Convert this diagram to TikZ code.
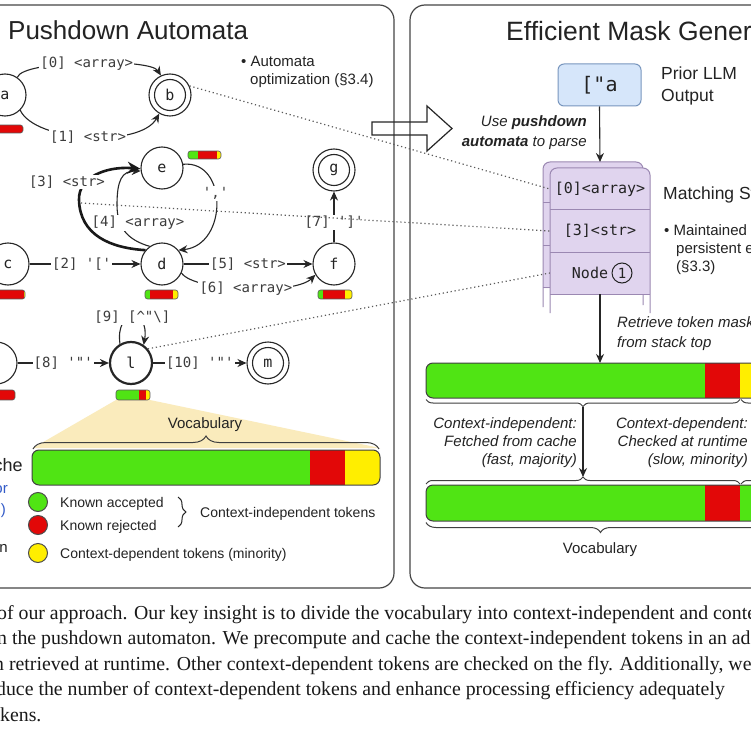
\documentclass[tikz,border=0pt]{standalone}
\usepackage{fontspec}
\setmainfont{Liberation Sans}
\newfontfamily\monof{DejaVu Sans Mono}
\newfontfamily\capf{Liberation Serif}
\usetikzlibrary{arrows.meta,decorations.pathreplacing}
\definecolor{vgreen}{RGB}{80,228,20}
\definecolor{vred}{RGB}{226,8,8}
\definecolor{vyellow}{RGB}{255,238,0}
\definecolor{tanfill}{RGB}{250,235,188}
\definecolor{boxblue}{RGB}{214,230,250}
\definecolor{boxblueb}{RGB}{120,150,190}
\definecolor{stackp}{RGB}{224,212,238}
\definecolor{stackb}{RGB}{155,136,178}
\definecolor{txtblue}{RGB}{50,90,200}
\definecolor{lblgray}{RGB}{60,60,60}
\definecolor{txtdark}{RGB}{35,35,35}
\definecolor{panelgray}{RGB}{70,70,70}
\definecolor{dotgray}{RGB}{90,90,90}
\tikzset{
  state/.style={circle, draw=black!85, line width=1.1pt, minimum size=42pt, inner sep=0pt, fill=white, text=txtdark, font=\monof\fontsize{15}{15}\selectfont},
  elbl/.style={font=\monof\fontsize{14}{14}\selectfont, text=lblgray, fill=white, inner sep=1.2pt},
  earrow/.style={line width=1.1pt, draw=black!85, -{Stealth[length=9pt,width=8pt]}},
  thickarrow/.style={line width=2.6pt, draw=black!90, -{Stealth[length=13pt,width=12pt]}},
  dotline/.style={draw=dotgray, line width=1.2pt, dash pattern=on 1.2pt off 2.8pt},
  barline/.style={draw=black!65, line width=0.6pt},
  bigbarline/.style={draw=black!75, line width=1pt},
  panel/.style={draw=panelgray, line width=1.2pt, rounded corners=15pt},
  txt/.style={inner sep=0pt, text=txtdark},
  f14/.style={font=\fontsize{14}{16}\selectfont},
  f15/.style={font=\fontsize{15}{18}\selectfont},
  i15/.style={font=\itshape\fontsize{15}{18}\selectfont},
  legdot/.style={circle, draw=black!70, line width=1pt, minimum size=19pt, inner sep=0pt},
  cellt/.style={minimum width=100pt, minimum height=42pt, inner sep=0pt, text=txtdark, font=\monof\fontsize{15}{15}\selectfont},
  capt/.style={anchor=base west, inner sep=0pt, text=black!90, font=\capf\fontsize{19.8}{19.8}\selectfont}
}
\newcommand{\pdabar}[6]{%
  \begin{scope}
    \clip[rounded corners=2.5pt] (#1,#5) rectangle (#2,#6);
    \fill[vgreen] (#1,#5) rectangle (#3,#6);
    \fill[vred] (#3,#5) rectangle (#4,#6);
    \fill[vyellow] (#4,#5) rectangle (#2,#6);
  \end{scope}
  \draw[barline, rounded corners=2.5pt] (#1,#5) rectangle (#2,#6);}
\newcommand{\vocbar}[7]{%
  \begin{scope}
    \clip[rounded corners=7pt] (#1,#5) rectangle (#2,#6);
    \fill[vgreen] (#1,#5) rectangle (#3,#6);
    \fill[vred] (#3,#5) rectangle (#4,#6);
    \fill[#7] (#4,#5) rectangle (#2,#6);
  \end{scope}
  \draw[bigbarline, rounded corners=7pt] (#1,#5) rectangle (#2,#6);}
\begin{document}
\begin{tikzpicture}[x=1pt,y=-1pt]
\useasboundingbox (0,0) rectangle (750,751);
\fill[white] (0,0) rectangle (750,751);

% panels
\draw[panel] (-40,5) rectangle (394,588);
\draw[panel] (410,5) rectangle (820,588);

% titles
\node[txt, anchor=base west, font=\fontsize{26}{26}\selectfont] (t1) at (8,40) {Pushdown Automata};
\node[txt, anchor=base west, font=\fontsize{26.5}{26}\selectfont] (t2) at (506,41) {Efficient Mask Generation};

% bullet left
\node[txt, f15, anchor=base west] (opt1) at (241,67) {\textbullet\ Automata};
\node[txt, f15, anchor=base west] (opt2) at (250,85) {optimization (§3.4)};

% tan trapezoid
\fill[tanfill] (116,400) -- (150,400) -- (380,448) -- (33,448) -- cycle;
\node[txt, f15] (voc1) at (205,425) {Vocabulary};

% states
\node[state] (a) at (5,95) {a};
\node[state] (b) at (170,95) {b};
\draw[line width=1.1pt, black!85] (b.center) circle[radius=15.5pt];
\node[state] (e) at (162,168) {e};
\node[state] (g) at (334,170) {g};
\draw[line width=1.1pt, black!85] (g.center) circle[radius=15.5pt];
\node[state] (c) at (8,264) {c};
\node[state] (d) at (162,264) {d};
\node[state] (f) at (334,264) {f};
\node[state] (h) at (-4,363) {h};
\node[state, line width=2.2pt] (l) at (131,363) {l};
\node[state] (m) at (268,363) {m};
\draw[line width=1.1pt, black!85] (m.center) circle[radius=15.5pt];

% edges
\draw[earrow] (a.55) .. controls (22,60) and (150,58) .. node[elbl]{[0] <array>} (b.115);
\draw[earrow] (a.-45) .. controls (35,142) and (140,148) .. node[elbl]{[1] <str>} (b.-120);
\draw[earrow] (c) -- node[elbl, pos=0.47]{[2] '['} (d);
\draw[earrow] (d) -- node[elbl]{[5] <str>} (f);
\draw[earrow] (d.-25) .. controls (195,292) and (295,295) .. node[elbl]{[6] <array>} (f.-150);
\draw[earrow] (f) -- node[elbl, pos=0.4]{[7] ']'} (g);
\draw[earrow] (e.10) .. controls (228,160) and (228,245) .. node[elbl, pos=0.42]{','} (d.40);
\draw[earrow] (d.125) .. controls (128,240) and (117,228) .. (117,205) .. controls (117,180) and (122,171) .. (e.188);
\node[elbl] (l4) at (138,223) {[4] <array>};
\draw[thickarrow] (d.140) .. controls (110,248) and (80,235) .. (79,200) .. controls (78,178) and (105,166) .. (e.182);
\node[elbl] (l3) at (67,182) {[3] <str>};
\draw[earrow] (h) -- node[elbl]{[8] '"'} (l);
\draw[earrow] (l) -- node[elbl]{[10] '"'} (m);
\draw[earrow] (l.120) .. controls (115,308) and (150,308) .. node[elbl]{[9] [\textasciicircum"\textbackslash]} (l.55);

% small bars
\pdabar{-10}{23}{-10}{23}{125}{133}
\pdabar{188}{221}{198}{217}{151}{159}
\pdabar{-10}{25}{-10}{23.5}{290}{299}
\pdabar{145}{178}{150}{173}{290}{299}
\pdabar{318}{352}{323}{345}{290}{299}
\pdabar{-10}{15}{-10}{15}{390}{400}
\pdabar{116}{150}{139}{146}{390}{400}

% vocabulary bar (left)
\vocbar{32}{380}{310}{345}{450}{485}{vyellow}
\draw[bigbarline, decorate, decoration={brace, amplitude=13pt}] (33,449) -- (379,449);

% cropped texts at left edge
\node[txt, anchor=base east, font=\fontsize{18}{18}\selectfont] (cache) at (23,471) {Adaptive Token Mask Cache};
\node[txt, f15, anchor=base east, text=txtblue] (cb1) at (8,493) {\textbullet\ Precomputed for};
\node[txt, f15, anchor=base east, text=txtblue] (cb2) at (6,514) {each node (§3.1)};
\node[txt, f15, anchor=base east] (cb3) at (8,552) {\textbullet\ Context expansion};

% legend
\node[legdot, fill=vgreen] (lg1) at (38,502) {};
\node[legdot, fill=vred] (lg2) at (38,525) {};
\node[legdot, fill=vyellow] (lg3) at (38,553) {};
\node[txt, f14, anchor=base west] (lt1) at (60,507) {Known accepted};
\node[txt, f14, anchor=base west] (lt2) at (60,530) {Known rejected};
\node[txt, f14, anchor=base west] (lt3) at (60,558) {Context-dependent tokens (minority)};
\draw[decorate, decoration={brace, amplitude=8pt}, line width=1pt, draw=txtdark] (178,497) -- (178,527);
\node[txt, f14, anchor=base west] (lt4) at (200,517) {Context-independent tokens};

% ---------- right panel ----------
\node[draw=boxblueb, fill=boxblue, rounded corners=6pt, line width=1pt, minimum width=83pt, minimum height=42pt, text=txtdark, font=\monof\fontsize{20}{20}\selectfont] (prior) at (599.5,85) {["a};
\node[txt, anchor=west, align=left, font=\fontsize{17.5}{22}\selectfont] (priorlbl) at (661,86) {Prior LLM\\Output};
\node[txt, i15, anchor=base east] (use1) at (587,127) {Use \textbf{pushdown}};
\node[txt, i15, anchor=base east] (use2) at (587,147) {\textbf{automata} to parse};

% stack (back card)
\fill[stackp, rounded corners=7pt] (543,288) -- (543,162) -- (643,162) -- (643,288);
\draw[stackb, line width=1pt, rounded corners=7pt] (543,307) -- (543,162) -- (643,162) -- (643,305);
\draw[stackb, line width=1pt] (543,203) -- (550,203) (543,245) -- (550,245) (543,287) -- (550,287);
% stack (front card)
\fill[stackp, rounded corners=7pt] (550,294) -- (550,168) -- (650,168) -- (650,294);
\draw[stackb, line width=1pt, rounded corners=7pt] (550,313) -- (550,168) -- (650,168) -- (650,313);
\draw[stackb, line width=1pt] (550,210) -- (650,210) (550,252) -- (650,252) (550,294) -- (650,294);
\node[cellt] (cell0) at (600,189) {[0]<array>};
\node[cellt] (cell3) at (600,231) {[3]<str>};
\node[cellt] (celln) at (600,273) {};
\node[txt, font=\monof\fontsize{15}{15}\selectfont] (nodetxt) at (590,273) {Node};
\node[circle, draw=txtdark, line width=1pt, minimum size=20pt, inner sep=0pt, text=txtdark, font=\monof\fontsize{14}{14}\selectfont] (one) at (622,273) {1};

\coordinate (stacktop) at (600,162);
\coordinate (stackbot) at (600,294);
\draw[earrow] (prior.south) -- (stacktop);

\node[txt, font=\fontsize{17.5}{22}\selectfont, anchor=base west] (mslbl) at (663,200) {Matching Stack};
\node[txt, f15, anchor=base west] (ms1) at (664,235) {\textbullet\ Maintained in a};
\node[txt, f15, anchor=base west] (ms2) at (676,253) {persistent execution tree};
\node[txt, f15, anchor=base west] (ms3) at (676,271) {(§3.3)};

\node[txt, i15, anchor=base west] (ret1) at (617,327) {Retrieve token mask cache};
\node[txt, i15, anchor=base west] (ret2) at (617,347) {from stack top};

% bars right
\coordinate (bar1top) at (600,363);
\draw[earrow] (stackbot) -- (bar1top);
\vocbar{426}{775}{705}{740}{363}{398}{vyellow}
\vocbar{426}{775}{705}{740}{485}{521}{vgreen}
\draw[bigbarline, decorate, decoration={brace, amplitude=7pt}] (740,399.5) -- (426,399.5);
\draw[bigbarline, decorate, decoration={brace, amplitude=7pt}] (775,399.5) -- (741,399.5);
\draw[bigbarline, decorate, decoration={brace, amplitude=7pt}] (426,484) -- (740,484);
\draw[bigbarline, decorate, decoration={brace, amplitude=7pt}] (741,484) -- (775,484);
\draw[bigbarline, decorate, decoration={brace, amplitude=10pt}] (775,522.5) -- (426,522.5);
\coordinate (b1tip) at (583,406.5);
\coordinate (b2tip) at (583,477);
\draw[earrow] (b1tip) -- (b2tip);

\node[txt, i15, anchor=base east] (ci1) at (577,428) {Context-independent:};
\node[txt, i15, anchor=base east] (ci2) at (577,446) {Fetched from cache};
\node[txt, i15, anchor=base east] (ci3) at (577,464) {(fast, majority)};
\node[txt, i15, anchor=base east] (cd1) at (748,428) {Context-dependent:};
\node[txt, i15, anchor=base east] (cd2) at (748,446) {Checked at runtime};
\node[txt, i15, anchor=base east] (cd3) at (748,464) {(slow, minority)};
\node[txt, f15, anchor=base] (voc2) at (600,553) {Vocabulary};

% hollow arrow
\draw[line width=1.2pt, black!85, line join=miter] (372,122) -- (427,122) -- (427,106) -- (452,128.5) -- (427,151) -- (427,135) -- (372,135) -- cycle;

% dotted links
\coordinate (s3) at (81,203);
\draw[dotline] (b.25) -- (cell0.west);
\draw[dotline] (s3) -- (cell3.west);
\draw[dotline] (l.40) -- (celln.west);

% caption
\node[capt] (cap1) at (-3,619) {of our approach. Our key insight is to divide the vocabulary into context-independent and context-dependent};
\node[capt] (cap2) at (-3,644.5) {n the pushdown automaton. We precompute and cache the context-independent tokens in an adaptive};
\node[capt] (cap3) at (-6,670) {n retrieved at runtime. Other context-dependent tokens are checked on the fly. Additionally, we};
\node[capt] (cap4) at (-4,695.5) {duce the number of context-dependent tokens and enhance processing efficiency adequately};
\node[capt] (cap5) at (0,721) {kens.};
\end{tikzpicture}
\end{document}
